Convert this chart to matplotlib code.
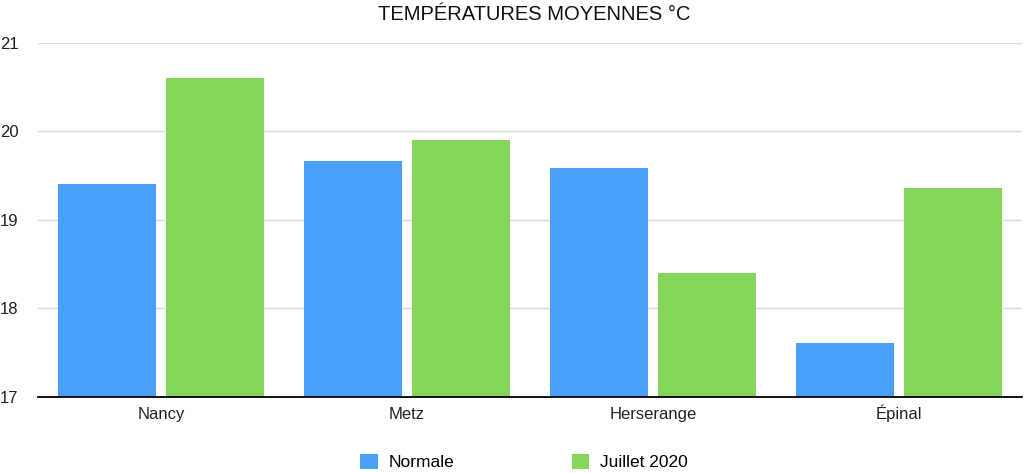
import matplotlib
matplotlib.use("Agg")
import matplotlib.pyplot as plt
import numpy as np

categories = ["Nancy", "Metz", "Herserange", "Épinal"]
normale = [19.41, 19.66, 19.58, 17.61]
juillet_2020 = [20.60, 19.90, 18.40, 19.36]
series_names = ["Normale", "Juillet 2020"]
yticks = [17, 18, 19, 20, 21]

plt.rcParams['font.family'] = ['Liberation Sans', 'DejaVu Sans']

fig = plt.figure(figsize=(10.24, 4.73), dpi=100)
ax = fig.add_axes([38/1024, 1-396.5/473, 984/1024, (396.5-43)/473])

x = np.arange(len(categories))
w = 0.398
off = 0.22
c1 = "#479FF8"
c2 = "#84D65A"
b1 = ax.bar(x - off, normale, w, color=c1, zorder=3, label=series_names[0])
b2 = ax.bar(x + off, juillet_2020, w, color=c2, zorder=3, label=series_names[1])

ax.set_ylim(17, 21)
ax.set_xlim(-0.5, len(categories) - 0.5)
ax.set_yticks(yticks)
ax.set_yticklabels([str(t) for t in yticks])
ax.set_xticks(x)
ax.set_xticklabels(categories, va="baseline")
ax.tick_params(axis='both', length=0, labelsize=12, colors="#222222")
ax.tick_params(axis='y', pad=14)
ax.tick_params(axis='x', pad=16)
ax.yaxis.grid(True, color="#d9d9d9", linewidth=1.0, zorder=0)
for s in ["top", "right", "left"]:
    ax.spines[s].set_visible(False)
ax.spines["bottom"].set_color("black")
ax.spines["bottom"].set_linewidth(1.3)
ax.spines["bottom"].set_zorder(4)

fig.text(534/1024, 1-14/473, "TEMPÉRATURES MOYENNES °C", ha="center", va="center", fontsize=14.5, color="#111111")

leg = fig.legend(handles=[b1, b2], labels=series_names, loc="center", bbox_to_anchor=(524/1024, 1-462/473),
                 ncol=2, frameon=False, fontsize=12.5, handlelength=1.0, handleheight=1.0,
                 columnspacing=6.8, handletextpad=0.6)

fig.savefig("out.png", dpi=100, facecolor="white")
